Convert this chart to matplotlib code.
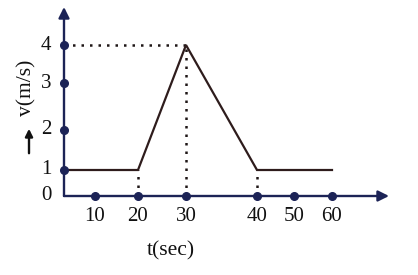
import numpy as np
import matplotlib
matplotlib.use('Agg')
import matplotlib.pyplot as plt

plt.rcParams['font.family'] = ['Liberation Serif', 'DejaVu Serif']

# velocity-time data
t = [0, 20, 30, 40, 60]
v = [1, 1, 4, 1, 1]
t_ticks = [10, 20, 30, 40, 50, 60]
v_ticks = [1, 2, 3, 4]
t_labels = ['10', '20', '30', '40', '50', '60']
v_labels = ['1', '2', '3', '4']

# the hand-drawn axes are not evenly spaced: piecewise scale (value -> pixel)
t_ref = [-30, 0, 10, 20, 30, 40, 50, 60, 90]
t_pix = [-29, 64, 95, 138, 186, 257, 294, 332, 446]
v_ref = [-5, 0, 1, 2, 3, 4, 6]
v_pix = [-51, 79, 105, 145, 192, 230, 306]

def tf(x): return np.interp(x, t_ref, t_pix)
def ti(x): return np.interp(x, t_pix, t_ref)
def vf(y): return np.interp(y, v_ref, v_pix)
def vi(y): return np.interp(y, v_pix, v_ref)

navy = '#1c2356'
brown = '#2e1c1c'
fs = 15

fig = plt.figure(figsize=(4.18, 2.75), dpi=100)
ax = fig.add_axes([0, 0, 1, 1])
ax.set_xscale('function', functions=(tf, ti))
ax.set_yscale('function', functions=(vf, vi))
ax.set_xlim(ti(0), ti(418))
ax.set_ylim(vi(0), vi(275))
ax.axis('off')

# axes with arrows
arr = dict(arrowstyle='-|>', color=navy, lw=1.7, mutation_scale=16, shrinkA=0, shrinkB=0)
ax.annotate('', xy=(75, 0), xytext=(0, 0), arrowprops=arr)
ax.annotate('', xy=(0, 5), xytext=(0, 0), arrowprops=arr)

# dotted guides
dot = dict(color='#1e1616', lw=1.8, linestyle=(0, (1, 2.4)))
i_peak = int(np.argmax(v))
ax.plot([0, t[i_peak]], [v[i_peak], v[i_peak]], **dot)
for k in (1, 2, 3):
    ax.plot([t[k], t[k]], [0, v[k]], **dot)

# the graph
ax.plot(t, v, color=brown, lw=1.6, solid_joinstyle='miter')

# tick dots
ax.plot(t_ticks, [0] * len(t_ticks), 'o', color=navy, ms=5.5)
ax.plot([0] * len(v_ticks), v_ticks, 'o', color=navy, ms=5.5)

for x, lab in zip(t_ticks, t_labels):
    ax.annotate(lab, (x, 0), xytext=(0, -14.5), textcoords='offset points',
                ha='center', va='center', fontsize=fs, color='#111111')
for y, lab in zip(v_ticks, v_labels):
    ax.annotate(lab, (0, y), xytext=(-13, 0), textcoords='offset points',
                ha='center', va='center', fontsize=fs, color='#111111')
ax.annotate('0', (0, 0), xytext=(-13, 0), textcoords='offset points',
            ha='center', va='center', fontsize=fs, color='#111111')

fig.text(171 / 418, 1 - 251 / 275, 't(sec)', ha='center', va='center', fontsize=fs + 0.5, color='#111111')
fig.text(27 / 418, 1 - 88 / 275, 'v(m/s)', ha='center', va='center', rotation=90,
         fontsize=fs + 0.5, color='#111111')
fig.add_artist(matplotlib.patches.FancyArrowPatch(
    (29 / 418, 1 - 156 / 275), (29 / 418, 1 - 126 / 275), transform=fig.transFigure,
    arrowstyle='-|>', mutation_scale=11, color='#111111', lw=1.7))

fig.savefig('out.png', dpi=100)
